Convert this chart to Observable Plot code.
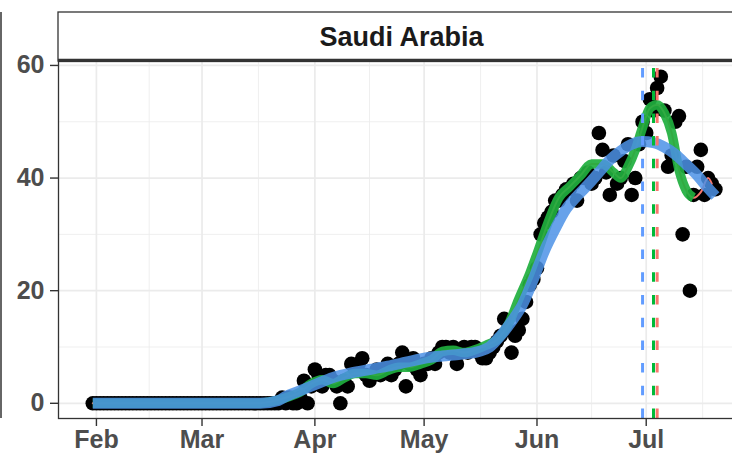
<!DOCTYPE html>
<html>
<head>
<meta charset="utf-8">
<script src="https://cdn.jsdelivr.net/npm/d3@7"></script>
<script src="https://cdn.jsdelivr.net/npm/@observablehq/plot@0.6"></script>
<style>
  html, body { margin: 0; padding: 0; background: #ffffff; overflow: hidden; }
  svg { display: block; }
</style>
</head>
<body>
<div id="chart"></div>
<script>
// ---------- data ----------
const facetLabel = "Saudi Arabia";
const firstDate = "2020-01-31";           // first daily observation
// daily values from Jan 31 to Jul 20, 2020
const dailyValues = [
  // Jan 31 .. Mar 22  (zeros)
  0,0,0,0,0,0,0,0,0,0, 0,0,0,0,0,0,0,0,0,0,
  0,0,0,0,0,0,0,0,0,0, 0,0,0,0,0,0,0,0,0,0,
  0,0,0,0,0,0,0,0,0,0, 0,0,
  // Mar 23 ..
  1,0,1,0,0,1,4,0,3,6, 5,3,5,5,4,3,0,4,3,7,
  6,7,8,5,4,5,6,5,6,7, 5,6,7,9,3,7,8,6,5,7,
  7,8,7,9,10,10,9,10,7,9, 10,9,10,10,9,8,8,9,10,11,
  12,15,13,9,12,13,15,18,21,22, 24,30,32,33,34,36,36,37,38,38,
  39,36,40,40,41,39,40,48,45,41, 37,44,39,40,43,46,37,40,46,50,
  48,54,52,56,58,52,42,44,50,51, 30,42,20,37,42,45,37,40,39,38
];
// green smoother (days after Feb 1, value)
const greenDays = [-1,44,48,52,56,59,62,65,68,71,74,77,80,83,86,89,92,95,98,101,104,107,110,113,116,119,121,124,127,130,133,136,139,142,144,146,148,150,152,154,156,158,160,162,164];
const greenVals = [0,0,0.3,1,2,3.5,4.2,3.5,4.5,5.3,5.3,5,5.8,6.4,6.4,7,7.7,9.2,9.4,9,9.5,10.3,11.3,13.8,18.5,23,26.5,32,36.5,38.5,40.5,42.5,42.5,41,40,42,45,49,52.4,53,51.5,48,41.5,37.8,36.5];
// thin red smoother
const redDays = [-1,44,48,52,56,59,62,65,68,71,74,77,80,83,86,89,92,95,98,101,104,107,110,113,116,119,121,124,127,130,133,136,139,142,144,146,148,150,152,154,156,158,160,162,164,166,168,169];
const redVals = [0,0,0.3,1,2,3.5,4.2,3.5,4.5,5.3,5.3,5,5.8,6.4,6.4,7,7.7,9.2,9.4,9,9.5,10.3,11.3,13.8,18.5,23,26.5,32,36.5,38.5,40.5,42.5,42.5,41,40,42,45,49,52.4,53,51.5,48,41.5,37.8,36.5,37.5,40,39];
// blue loess smoother
const blueDays = [-1,45,50,52,55,60,65,70,75,80,85,90,95,100,105,108,111,114,117,120,123,126,129,132,135,138,141,144,147,150,153,156,159,162,165,168,170];
const blueVals = [0,0,0.5,1.2,2,3.3,4.6,5.4,6,6.6,7.3,8,8.4,8.7,9.2,10,12,14.5,17.5,22,27,31,34.5,36.8,38.8,41,43.2,44.8,46,46.5,46.3,45.5,44.2,42.4,40.5,38.2,36.8];
// vertical dashed reference dates
const vlineDates = ["2020-06-30", "2020-07-03", "2020-07-04"];
const vlineColors = ["#619CFF", "#00BA38", "#F8766D"];
// axes
const yTicks = [0, 20, 40, 60];
const yMinor = [10, 30, 50];
const monthTicks = ["2020-02-01","2020-03-01","2020-04-01","2020-05-01","2020-06-01","2020-07-01"];
const monthMinor = ["2020-02-15T12:00Z","2020-03-16T12:00Z","2020-04-16T00:00Z","2020-05-16T12:00Z","2020-06-16T00:00Z","2020-07-16T12:00Z"];
const xDomain = ["2020-01-21T14:00Z", "2020-07-29T22:00Z"];
const yDomain = [-2.7, 60.7];

// ---------- build tables ----------
const DAY = 864e5;
const t0 = Date.parse(firstDate + "T00:00Z");
const feb1 = Date.parse("2020-02-01T00:00Z");
const points = dailyValues.map((v, i) => ({date: new Date(t0 + i * DAY), value: v}));
const toSeries = (days, vals) => days.map((d, i) => ({date: new Date(feb1 + d * DAY), value: vals[i]}));
const green = toSeries(greenDays, greenVals);
const red = toSeries(redDays, redVals);
const blue = toSeries(blueDays, blueVals);
const parse = s => new Date(s.length === 10 ? s + "T00:00Z" : s);
const vlines = vlineDates.map((d, i) => ({date: parse(d), color: vlineColors[i]}));

const width = 732, height = 455;
const mL = 58, mR = -19, mT = 61, mB = 37;
const font = "'Liberation Sans', Arial, sans-serif";

const chart = Plot.plot({
  width, height,
  marginLeft: mL, marginRight: mR, marginTop: mT, marginBottom: mB,
  style: {fontFamily: font, background: "white", overflow: "visible"},
  x: {type: "utc", domain: xDomain.map(parse)},
  y: {domain: yDomain},
  color: {type: "identity"},
  marks: [
    Plot.gridX(monthMinor.map(parse), {stroke: "#EBEBEB", strokeOpacity: 1, strokeWidth: 0.8}),
    Plot.gridY(yMinor, {stroke: "#EBEBEB", strokeOpacity: 1, strokeWidth: 0.8}),
    Plot.gridX(monthTicks.map(parse), {stroke: "#EBEBEB", strokeOpacity: 1, strokeWidth: 1.7}),
    Plot.gridY(yTicks, {stroke: "#EBEBEB", strokeOpacity: 1, strokeWidth: 1.7}),
    Plot.dot(points, {x: "date", y: "value", r: 7.3, fill: "black", stroke: "none"}),
    Plot.line(red, {x: "date", y: "value", stroke: "#F8766D", strokeWidth: 2, curve: "monotone-x"}),
    Plot.line(green, {x: "date", y: "value", stroke: "#1FAF3E", strokeOpacity: 0.92, strokeWidth: 9.5, curve: "monotone-x", strokeLinecap: "butt"}),
    Plot.line(blue, {x: "date", y: "value", stroke: "#4C92E6", strokeOpacity: 0.85, strokeWidth: 11, curve: "monotone-x", strokeLinecap: "butt"}),
    Plot.ruleX(vlines, {x: "date", y1: yDomain[0], y2: yDomain[1], stroke: "color", strokeWidth: 3, strokeDasharray: "9.5,13.2"}),
    Plot.frame({stroke: "#333333", strokeWidth: 1.3}),
    Plot.axisY(yTicks, {anchor: "left", tickSize: 8, tickPadding: 6, fontSize: 25, fontWeight: "bold", fill: "#4D4D4D", stroke: "#333333", strokeWidth: 1.4, label: null}),
    Plot.axisX(monthTicks.map(parse), {anchor: "bottom", tickSize: 8, tickPadding: 4, fontSize: 25, fontWeight: "bold", fill: "#4D4D4D", stroke: "#333333", strokeWidth: 1.4, tickFormat: d3.utcFormat("%b"), label: null})
  ]
});

// facet strip and outer border decorations
const svg = d3.select(chart);
const x0 = mL, x1 = width - mR;
svg.append("rect").attr("x", x0).attr("y", 12).attr("width", x1 - x0).attr("height", mT - 12)
  .attr("fill", "white").attr("stroke", "#333333").attr("stroke-width", 1.3);
svg.append("line").attr("x1", x0).attr("x2", x1).attr("y1", mT - 1).attr("y2", mT - 1)
  .attr("stroke", "#333333").attr("stroke-width", 2.4);
svg.append("text").attr("x", (x0 + x1) / 2 - 3).attr("y", (12 + mT) / 2)
  .attr("text-anchor", "middle").attr("dominant-baseline", "central")
  .attr("font-family", font).attr("font-weight", "bold")
  .attr("font-size", 27).attr("fill", "#1A1A1A").text(facetLabel);
svg.append("line").attr("x1", 1).attr("x2", 1).attr("y1", 12).attr("y2", height - mB)
  .attr("stroke", "#333333").attr("stroke-width", 1.5);

document.getElementById("chart").appendChild(chart);
</script>
</body>
</html>
